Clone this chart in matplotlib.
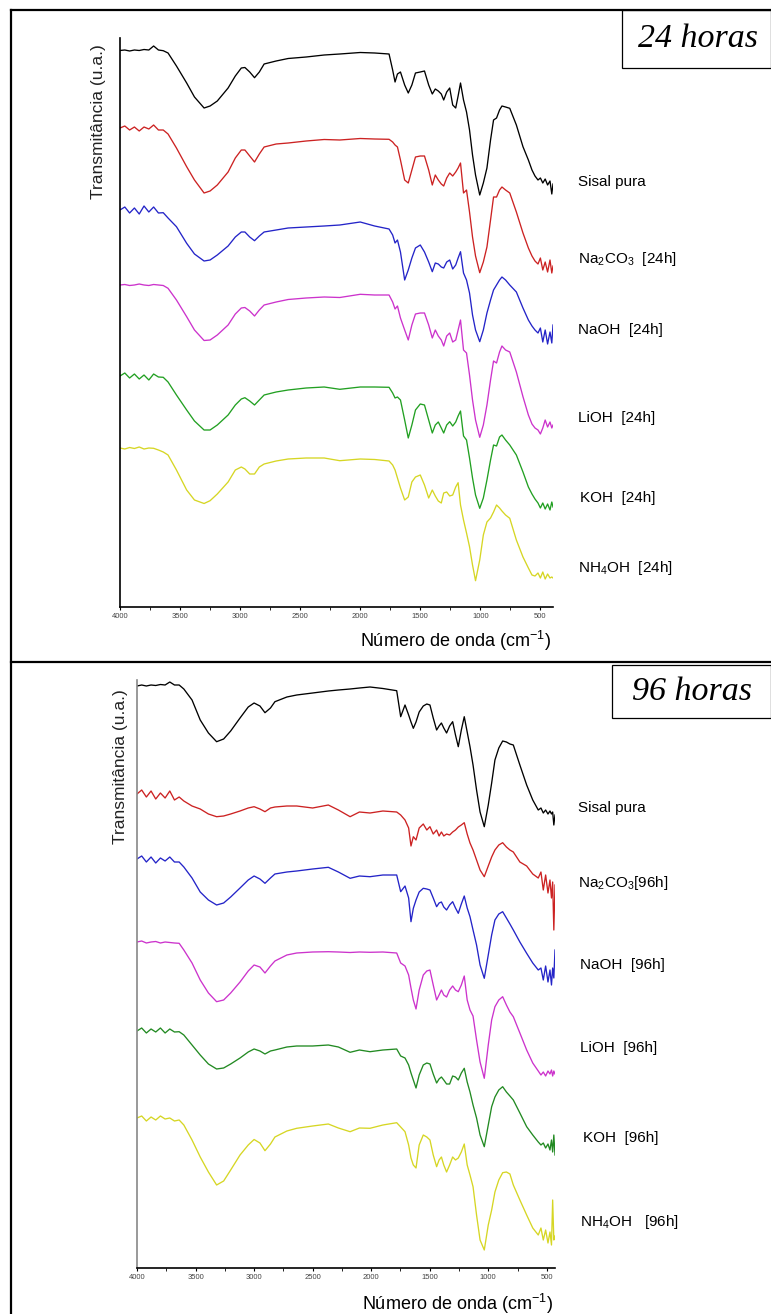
import numpy as np
import matplotlib
matplotlib.use('Agg')
import matplotlib.pyplot as plt
from matplotlib.lines import Line2D
from matplotlib.patches import Rectangle

plt.rcParams['font.family'] = ['Liberation Sans', 'DejaVu Sans']
plt.rcParams['mathtext.fontset'] = 'custom'
plt.rcParams['mathtext.rm'] = 'Liberation Sans'

# ---- data: wavenumber grid and transmittance (a.u.) ----
wn_24 = [4000, 3960, 3920, 3880, 3840, 3800, 3760, 3720, 3680, 3640,
         3600, 3530, 3445, 3380, 3300, 3250, 3190, 3100, 3040, 2990, 2960, 2920, 2880, 2840, 2800,
         2700, 2600, 2450, 2300, 2170, 2000, 1880, 1760,
         1730, 1710, 1690, 1665, 1630, 1600, 1570, 1540, 1500, 1465, 1430, 1400, 1375, 1350, 1325,
         1305, 1280, 1255, 1230, 1205, 1185, 1165, 1140, 1115, 1090, 1065, 1040, 1005, 975, 945,
         915, 890, 865, 840, 820, 790, 755, 700, 645, 600,
         570, 545, 520, 500, 480, 460, 440, 420, 405, 395]

sisal_24 = [149.5, 150, 149, 150, 149.5, 150.5, 150, 154, 150, 149.3,
            147, 134, 117, 103, 92, 94, 99, 112, 124, 132, 132.5, 128, 122.3, 128, 136,
            139, 141.5, 143, 145, 146, 147.5, 147, 146,
            130, 118, 126, 128, 115, 107, 115, 127, 128, 129, 115, 106, 111, 109, 106,
            100, 108, 112, 95, 92, 104, 117, 100, 88, 70, 45, 25, 5, 17, 32,
            60, 80, 82, 90, 94, 93, 91.7, 75, 53.3, 40,
            30, 24, 20, 22, 17, 21, 15, 19, 6, 16]
na2co3_24 = [147, 149, 145, 148, 144, 148, 146, 150, 145, 145,
             141, 127, 108.3, 95, 82, 84, 90, 103, 117, 125, 125, 119, 113, 121, 128,
             131, 132, 134, 135.5, 135, 136.5, 136, 135.7,
             133, 130, 128, 115, 95, 92, 105, 118, 119, 119, 105, 90, 100, 95, 91,
             89, 97, 102, 99, 103, 107, 112, 82, 85, 63, 38, 19, 2.3, 13, 28,
             55, 78, 78, 85, 88, 85, 82, 63, 42, 27,
             19, 14, 11, 17, 5, 13, 3, 15, 2, 9]
naoh_24 = [135, 138, 132, 137, 131, 139, 133, 138, 132, 132.3,
           127, 118.3, 101.7, 91, 84, 85, 90, 99, 108, 113, 113, 108, 104.3, 109, 113,
           115, 117, 118, 119, 120, 123, 119, 116,
           110, 102, 105, 93, 65, 75, 87, 97, 100, 93, 83, 73.3, 82, 81, 78,
           77, 83, 85, 76, 80, 87, 93.3, 72, 65, 52, 30, 15, 3.3, 15, 32,
           45, 55, 60, 65, 68, 65, 60, 53, 37, 25,
           19, 15, 12, 17, 3, 15, 1, 13, 2, 20]
lioh_24 = [155, 155.5, 154.5, 155, 156, 155, 154.5, 155.5, 155, 154.5,
           151.7, 140, 123.3, 110, 99.5, 100, 105, 115, 126, 132, 132.5, 129, 124, 130, 135,
           138, 140.5, 142, 143, 142.5, 145.7, 145, 145,
           138, 131, 134, 122, 110, 100, 115, 126, 127, 127, 115, 102, 110, 104, 100,
           94, 104, 107, 98, 100, 110, 120, 90, 87, 65, 40, 20, 2.7, 15, 35,
           60, 79, 77, 88, 94, 90, 88, 68, 43.3, 25,
           16, 12, 10, 6, 12, 20, 13, 18, 12, 15]
koh_24 = [136, 139, 134, 138, 133, 137, 132, 138, 135, 134.7,
          130, 117, 102, 91, 82, 82, 87, 97, 107, 113, 114.3, 111, 107, 112, 117,
          120, 122, 124, 125, 122.7, 125, 125, 124.7,
          119, 114, 115, 112, 92, 74, 87, 102, 108, 107, 92, 79, 87, 90, 84,
          79, 87, 90.3, 86, 90, 96, 101, 76, 72, 54, 34, 17, 3.7, 14, 32,
          52, 67, 66, 75, 77, 72, 67, 57, 40, 25,
          18, 13, 9, 4, 9, 3, 8, 2, 10, 5]
nh4oh_24 = [137, 136, 137.5, 136.5, 138, 136, 137, 136.7, 135, 133,
            130, 115, 95, 85, 81.5, 84.3, 91, 103, 115, 118, 116, 111, 111, 118, 121,
            124, 126, 127, 127, 124.3, 126, 125.5, 124,
            120, 115, 107, 97, 85, 88, 103, 108, 110, 100, 87, 95, 89, 84, 82,
            92, 93, 89, 90, 98, 102.3, 80, 65, 52, 38.3, 20, 4.3, 25, 50, 63,
            67, 73, 80, 77, 74, 70, 66.7, 45, 28, 17,
            10, 9, 12, 7, 13, 6, 11, 7, 8, 7]

wn_96 = [4000, 3960, 3920, 3880, 3840, 3800, 3760, 3720, 3680, 3640,
         3600, 3530, 3460, 3390, 3320, 3260, 3200, 3120, 3050, 3000, 2950, 2907, 2860, 2822,
         2720, 2636, 2500, 2366, 2280, 2180, 2100, 2010, 1900, 1782,
         1748, 1711, 1680, 1660, 1640, 1617, 1590, 1555, 1525, 1498, 1470, 1441, 1420, 1400,
         1380, 1356, 1330, 1304, 1280, 1256, 1230, 1205, 1180, 1156, 1130, 1100, 1070, 1034,
         1000, 971, 943, 910, 877, 845, 815, 786, 730, 672, 620, 573,
         550, 530, 510, 490, 473, 460, 450, 440, 430]

sisal_96 = [144, 145, 144, 145, 144.5, 145.5, 145, 148, 145, 145,
            141, 130, 110, 97, 88.3, 91, 99, 112, 123, 127, 124, 117.3, 122, 128.3,
            133, 135, 137, 139, 140, 141, 142, 143, 141.5, 139.3,
            113.3, 125, 115, 108, 101.7, 108, 118, 124, 126, 125, 112, 100, 104, 107,
            102, 97, 104, 108.3, 95, 83.3, 100, 113.3, 98, 83.3, 65, 40, 18, 3.3,
            25, 47, 70, 82, 89, 88, 86, 85, 65, 45, 30, 20,
            22, 17, 20, 16, 19, 16, 18, 5, 15]
na2co3_96 = [106, 110, 103, 109, 101, 107, 102, 109, 100, 103,
             99, 94, 91, 86, 83.3, 84, 86, 89, 92, 93.3, 91, 88.3, 92, 93,
             94, 94, 92, 95, 90, 83.3, 88, 87, 89, 88,
             85, 80, 72, 54, 63.3, 60, 72, 76, 70, 73.3, 66, 70, 64, 68,
             64, 66, 65, 68, 70, 73, 75, 77.3, 66, 57, 50, 40, 30, 23.3,
             34, 43, 50, 55, 57.3, 53, 50, 48, 38, 34, 26, 22,
             28, 10, 25, 7, 20, 2, 18, -30, 15]
naoh_96 = [123, 126, 120, 125, 119, 124, 121, 125, 120, 120,
           115, 104, 90, 82, 77, 79, 85, 94, 102, 106, 103, 98.7, 104, 108,
           110, 111, 113, 114.7, 110, 103.7, 106, 105.3, 107, 107,
           90.3, 96, 84, 60.3, 73.7, 82, 90, 93.7, 93, 92, 84, 75.3, 79, 80,
           75, 72, 77, 80.3, 74, 68.7, 78, 86, 74, 65.3, 52, 37, 17, 3.7,
           27, 47, 62, 68, 70.3, 64, 58, 52, 40, 28.7, 19, 12,
           14, 2, 16, 0, 12, -3, 14, 4, 32]
lioh_96 = [140, 141, 139, 140, 140.5, 139, 140, 139.5, 139, 138.7,
           132, 119, 102, 89, 80.3, 82, 89, 100, 111, 117, 115, 109, 116, 121,
           127, 129, 130, 130.3, 130, 129.5, 130, 129.7, 130, 129,
           119, 116, 107, 94, 82, 73, 92, 107, 111, 112, 97, 82, 87, 92,
           87, 85, 92, 96, 92, 90.3, 97, 106, 82, 72, 66, 42, 20, 3.7,
           37, 62, 75.3, 82, 85.3, 77, 70, 65.3, 49, 32, 19, 11,
           7, 10, 6, 11, 8, 12, 6, 11, 8]
koh_96 = [121, 124, 119, 123, 120, 124, 119, 123, 120, 120.3,
          117, 107, 97, 88, 83, 84, 88, 94, 100, 103, 101, 98, 101, 102,
          105, 106, 106, 107, 105, 99.7, 102, 100.3, 102, 103,
          96, 94, 87, 79, 72, 64, 77, 87, 89, 88, 78, 69, 73, 75,
          72, 68, 68, 76, 75, 72, 79, 83.7, 70, 60, 47, 34, 17, 5.3,
          27, 45.3, 55, 62, 65.3, 60, 56, 52, 39, 25.3, 17, 10,
          7, 9, 4, 8, 2, 12, 0, 17, -3]
nh4oh_96 = [138, 140, 135, 139, 136, 140, 137, 138, 135, 136,
            131, 116, 99, 84, 71, 75, 86, 101, 111, 116.5, 113, 105.3, 112, 119,
            125, 127.7, 130, 132, 128, 124.3, 128, 127.7, 131, 133.3,
            129, 124.3, 111, 98, 91, 88, 111, 121, 119, 116, 101, 89.3, 96, 99,
            91, 84, 91, 99, 96, 98, 104, 112, 91, 81, 69.3, 41, 16, 6,
            31, 46, 64, 76, 83.3, 84, 82, 71, 56, 41, 28, 21,
            28, 16, 26, 13, 24, 11, 56, 16, 20]

labels_24 = ['Sisal pura', r'Na$_\mathregular{2}$CO$_\mathregular{3}$  [24h]', 'NaOH  [24h]',
             'LiOH  [24h]', 'KOH  [24h]', r'NH$_\mathregular{4}$OH  [24h]']
labels_96 = ['Sisal pura', r'Na$_\mathregular{2}$CO$_\mathregular{3}$[96h]', 'NaOH  [96h]',
             'LiOH  [96h]', 'KOH  [96h]', r'NH$_\mathregular{4}$OH   [96h]']
xticks = [4000, 3500, 3000, 2500, 2000, 1500, 1000, 500]

# stacking offsets and styling
offsets_24 = [407, 332, 262, 167, 95, 22]
offsets_96 = [438, 368, 286, 186, 116, 12]
colors_24 = ['#000000', '#cc2222', '#2424c8', '#cc33cc', '#22a022', '#d6d624']
colors_96 = ['#000000', '#cc2222', '#2424c8', '#cc33cc', '#228a22', '#d6d624']

W, H = 771, 1314
fig = plt.figure(figsize=(W / 100, H / 100), dpi=100)

def fx(px):
    return px / W

def fy(py):
    return 1 - py / H


def panel(rect, wn, series, offs, cols, xmax, ytop, labels, label_pos, spine_col):
    ax = fig.add_axes(rect)
    for s, o, c in zip(series, offs, cols):
        ax.plot(wn, np.array(s) + o, color=c, lw=0.95)
    ax.set_xlim(4000, xmax)
    ax.set_ylim(0, ytop)
    ax.set_xticks(xticks)
    ax.set_xticks(np.arange(4000, xmax, -250), minor=True)
    ax.set_yticks([])
    for sp in ['top', 'right']:
        ax.spines[sp].set_visible(False)
    ax.spines['left'].set_color(spine_col)
    ax.spines['left'].set_linewidth(1.2)
    ax.spines['bottom'].set_linewidth(1.2)
    ax.tick_params(axis='x', which='major', direction='out', length=2.5, width=0.8,
                   labelsize=5.5, pad=2, labelcolor='#444444')
    ax.tick_params(axis='x', which='minor', direction='out', length=2, width=0.6)
    for lab, (px, py) in zip(labels, label_pos):
        fig.text(fx(px), fy(py), lab, fontsize=11, va='center', ha='left')
    return ax


series_24 = [sisal_24, na2co3_24, naoh_24, lioh_24, koh_24, nh4oh_24]
series_96 = [sisal_96, na2co3_96, naoh_96, lioh_96, koh_96, nh4oh_96]

pos_24 = [(578, 182), (578, 259), (578, 330), (578, 418), (580, 498), (578, 568)]
pos_96 = [(578, 808), (578, 883), (580, 965), (580, 1048), (583, 1138), (580, 1222)]

panel([fx(120), fy(607), (553 - 120) / W, (607 - 38) / H], wn_24, series_24, offsets_24,
      colors_24, 395, 569, labels_24, pos_24, 'black')
panel([fx(137), fy(1268), (555 - 137) / W, (1268 - 680) / H], wn_96, series_96, offsets_96,
      colors_96, 430, 588, labels_96, pos_96, '#888888')

# axis titles
fig.text(fx(98), fy(122), 'Transmitância (u.a.)', rotation=90, fontsize=12.5,
         ha='center', va='center', color='#222222')
fig.text(fx(120), fy(767), 'Transmitância (u.a.)', rotation=90, fontsize=12.5,
         ha='center', va='center', color='#222222')
fig.text(fx(456), fy(641), 'Número de onda (cm$^{-1}$)', fontsize=13, ha='center', va='center')
fig.text(fx(458), fy(1304), 'Número de onda (cm$^{-1}$)', fontsize=13, ha='center', va='center')

# outer frames
for xs, ys in [([fx(11), 1], [fy(10), fy(10)]),
               ([fx(11), fx(11)], [fy(10), 0]),
               ([fx(11), 1], [fy(662), fy(662)])]:
    fig.add_artist(Line2D(xs, ys, color='black', lw=1.6, transform=fig.transFigure))

# time boxes
for (x0, y0, x1, y1), txt in [((622, 10, 771, 68), '24 horas'), ((612, 665, 771, 718), '96 horas')]:
    fig.add_artist(Rectangle((fx(x0), fy(y1)), (x1 - x0) / W, (y1 - y0) / H, fill=False,
                             edgecolor='black', lw=0.9, transform=fig.transFigure))
    fig.text(fx((x0 + x1) / 2 + 1), fy((y0 + y1) / 2), txt, fontsize=24.5, style='italic',
             family='Liberation Serif', ha='center', va='center')

fig.savefig('out.png', dpi=100)
